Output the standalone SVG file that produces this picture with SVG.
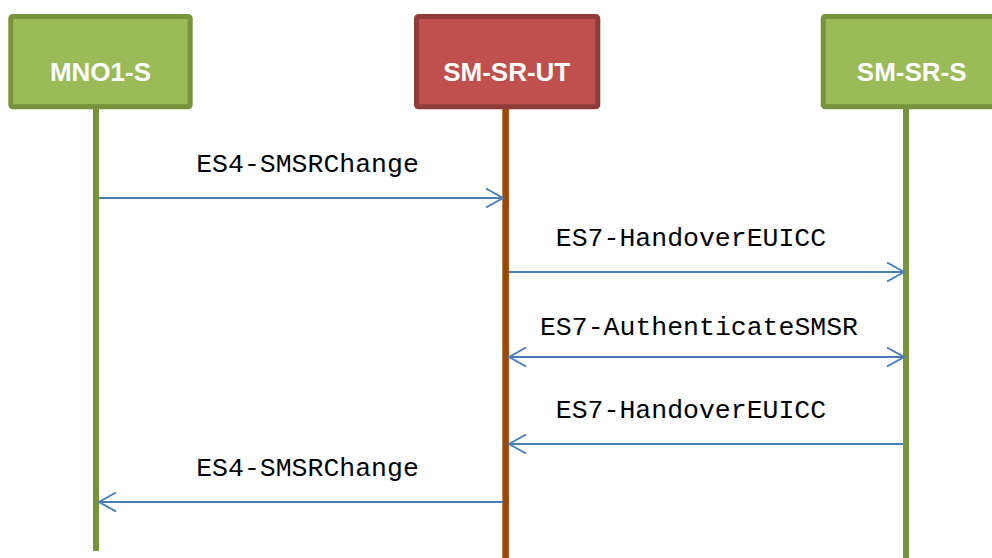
<svg xmlns="http://www.w3.org/2000/svg" width="992" height="558" viewBox="0 0 992 558">
  <style>
    .green rect { fill: #9BBB59; stroke: #77933C; stroke-width: 5; }
    .red rect { fill: #C0504D; stroke: #8E3B39; stroke-width: 5; }
    .head { font-family: "Liberation Sans", Arial, sans-serif; font-weight: bold; font-size: 26px; fill: #FFFFFF; text-anchor: middle; }
    .life-g { stroke: #77933C; stroke-width: 6; }
    .life-b { stroke: #984807; stroke-width: 6; }
    .msg { stroke: #4A7EBB; stroke-width: 2; fill: none; }
    .lbl { font-family: "Liberation Mono", "Courier New", monospace; font-size: 26.5px; fill: #000000; text-anchor: middle; }
  </style>
  <defs>
    <marker id="arr" markerUnits="userSpaceOnUse" markerWidth="22" markerHeight="24" viewBox="0 0 22 24" refX="19" refY="12" orient="auto-start-reverse">
      <path d="M2,2.5 L19,12 L2,21.5" fill="none" stroke="#4A7EBB" stroke-width="2"/>
    </marker>
  </defs>
  <rect width="992" height="558" fill="#FFFFFF"/>

  <g id="lifelines">
    <line class="life-g" x1="96" y1="109" x2="96" y2="551"/>
    <line x1="505.7" y1="109" x2="505.7" y2="558" stroke="#C98A5A" stroke-width="7"/>
    <line class="life-b" x1="505.7" y1="109" x2="505.7" y2="558"/>
    <line class="life-g" x1="906" y1="109" x2="906" y2="558"/>
  </g>

  <g id="MNO1-S" class="green">
    <rect x="10.8" y="16.5" width="179.4" height="90.3" rx="2"/>
    <text class="head" x="100.5" y="81">MNO1-S</text>
  </g>
  <g id="SM-SR-UT" class="red">
    <rect x="416.5" y="16.5" width="181.3" height="90.3" rx="2"/>
    <text class="head" x="506.7" y="81">SM-SR-UT</text>
  </g>
  <g id="SM-SR-S" class="green">
    <rect x="823.2" y="16.5" width="180" height="90.3" rx="2"/>
    <text class="head" x="911.7" y="81">SM-SR-S</text>
  </g>

  <g id="connectors">
    <path class="msg" d="M99,198 L503,198" marker-end="url(#arr)"/>
    <path class="msg" d="M509,272 L904,272" marker-end="url(#arr)"/>
    <path class="msg" d="M509,357 L904,357" marker-start="url(#arr)" marker-end="url(#arr)"/>
    <path class="msg" d="M903,444 L509,444" marker-end="url(#arr)"/>
    <path class="msg" d="M503,502 L99,502" marker-end="url(#arr)"/>
  </g>

  <g id="labels">
    <text class="lbl" x="307.5" y="172">ES4-SMSRChange</text>
    <text class="lbl" x="691" y="246">ES7-HandoverEUICC</text>
    <text class="lbl" x="699" y="335">ES7-AuthenticateSMSR</text>
    <text class="lbl" x="691" y="418">ES7-HandoverEUICC</text>
    <text class="lbl" x="307.5" y="476">ES4-SMSRChange</text>
  </g>
</svg>
